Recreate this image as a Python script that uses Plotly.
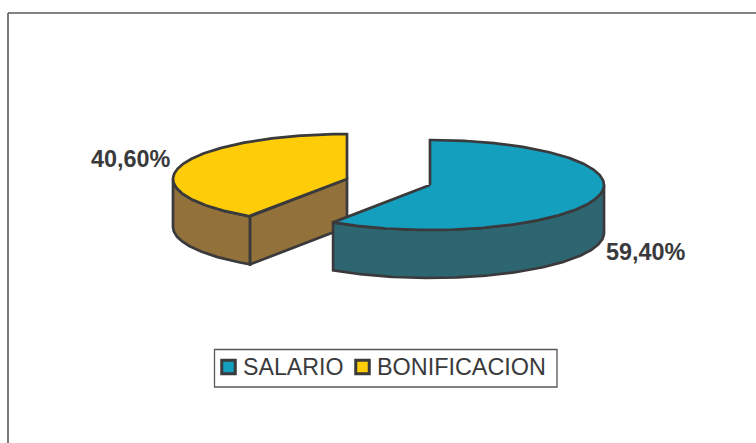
import numpy as np
import plotly.graph_objects as go

categories = ["SALARIO", "BONIFICACION"]
shares = [59.40, 40.60]
top_colors = ["#149FBE", "#FFCC08"]
side_colors = ["#2D6570", "#93713A"]
EDGE = "#3A3A3C"
FONT = "Liberation Sans, Arial, sans-serif"

RX, RY, DEPTH = 174, 45, 48
centers = [(430, 185), (347, 179)]

def pt(c, a, dz=0):
    """a: degrees clockwise from 12 o'clock."""
    r = np.radians(a)
    return c[0] + RX * np.sin(r), c[1] - RY * np.cos(r) + dz

def arc(c, a0, a1, dz=0):
    n = max(int(abs(a1 - a0)) * 2, 2)
    a = np.linspace(a0, a1, n)
    return pt(c, a, dz)

fig = go.Figure()

def poly(xs, ys, fill, name=None):
    fig.add_trace(go.Scatter(
        x=list(xs), y=list(ys), mode="lines", fill="toself", fillcolor=fill,
        line=dict(color=EDGE, width=2.7), hoverinfo="skip", showlegend=False, name=name))

def wedge(i, a0, a1):
    c = centers[i]
    w0, w1 = max(a0, 90), min(a1, 270)
    if w1 > w0:
        x1, y1 = arc(c, w0, w1)
        x2, y2 = arc(c, w1, w0, DEPTH)
        poly(np.r_[x1, x2, x1[0]], np.r_[y1, y2, y1[0]], side_colors[i], categories[i])
    if a0 > 90 and a0 < 270 and a1 > 270:
        ex, ey = pt(c, a0)
        poly([ex, c[0], c[0], ex, ex], [ey, c[1], c[1] + DEPTH, ey + DEPTH, ey],
             side_colors[i], categories[i])
    x, y = arc(c, a0, a1)
    poly(np.r_[c[0], x, c[0]], np.r_[c[1], y, c[1]], top_colors[i], categories[i])

start_salario = 0
end_salario = shares[0] / sum(shares) * 360
wedge(1, end_salario, 360)
wedge(0, start_salario, end_salario)

fig.add_trace(go.Scatter(
    x=[228.5, 362.5], y=[367, 367], mode="markers",
    marker=dict(symbol="square", size=13.5, color=top_colors, line=dict(color=EDGE, width=3)),
    hoverinfo="skip", showlegend=False))

def label(x, y, text, size=23.4, bold=False, anchor="left"):
    t = f"<b>{text}</b>" if bold else text
    fig.add_annotation(x=x, y=y, xref="x", yref="y", text=t, showarrow=False,
                       xanchor=anchor, yanchor="middle", xshift=-1.5,
                       font=dict(family=FONT, size=size, color=EDGE))

fmt = lambda v: f"{v:.2f}".replace(".", ",") + "%"
label(90, 159, fmt(shares[1]), bold=True)
label(605, 252, fmt(shares[0]), bold=True)
label(242, 367, categories[0], size=23.2)
label(376, 367, categories[1])

fig.update_layout(
    width=756, height=443, margin=dict(l=0, r=0, t=0, b=0),
    paper_bgcolor="white", plot_bgcolor="white", showlegend=False,
    xaxis=dict(range=[0, 756], visible=False, fixedrange=True),
    yaxis=dict(range=[443, 0], visible=False, fixedrange=True),
    shapes=[
        dict(type="line", xref="x", yref="y", x0=8, y0=13, x1=756, y1=13,
             line=dict(color="#58585A", width=1.6)),
        dict(type="line", xref="x", yref="y", x0=8, y0=13, x1=8, y1=443,
             line=dict(color="#58585A", width=1.6)),
        dict(type="rect", xref="x", yref="y", x0=214.5, y0=349.5, x1=557, y1=387,
             line=dict(color="#58585A", width=1.3), fillcolor="white", layer="below"),
    ],
)
fig.write_html("out.html", config={"displayModeBar": False},
               post_script="document.body.style.margin='0';document.documentElement.style.overflow='hidden';")
